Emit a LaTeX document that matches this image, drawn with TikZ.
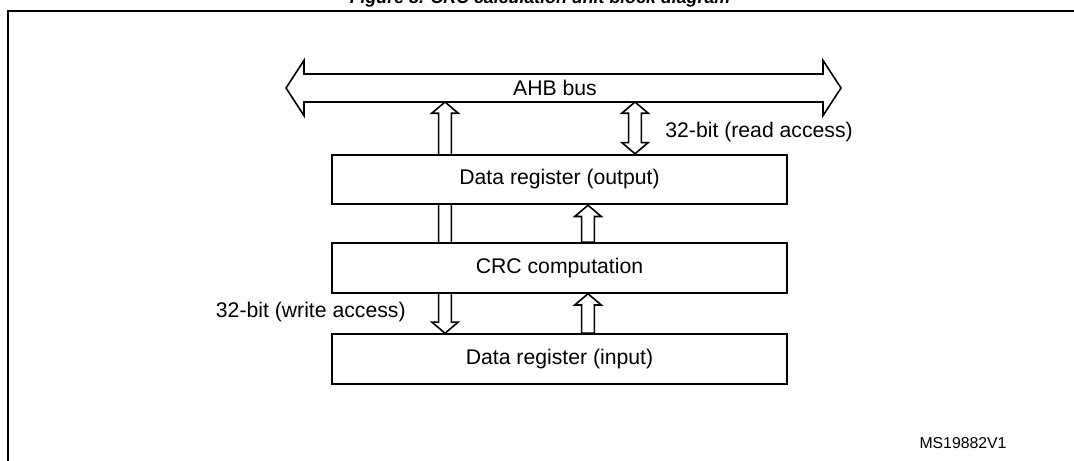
\documentclass[tikz,border=0pt]{standalone}
\usepackage{fontspec}
\setmainfont{Liberation Sans}
\usepackage{tikz}
\usetikzlibrary{calc}
\pgfdeclarelayer{background}
\pgfsetlayers{background,main}

\newcommand{\arrsw}{3.2pt}
\newcommand{\arrhw}{6.6pt}
\newcommand{\arrhl}{5.6pt}
\newcommand{\hollowarrow}[2]{%
    \coordinate (hb) at ($(#2)!\arrhl!(#1)$);
    \draw[hollow] ($(#1)!\arrsw!90:(#2)$) -- ($(hb)!\arrsw!90:(#2)$) -- ($(hb)!\arrhw!90:(#2)$)
        -- (#2) -- ($(hb)!\arrhw!-90:(#2)$) -- ($(hb)!\arrsw!-90:(#2)$) -- ($(#1)!\arrsw!-90:(#2)$) -- cycle;}
\newcommand{\hollowdouble}[2]{%
    \coordinate (ha) at ($(#1)!\arrhl!(#2)$);
    \coordinate (hb) at ($(#2)!\arrhl!(#1)$);
    \draw[hollow] (#1) -- ($(ha)!\arrhw!90:(#2)$) -- ($(ha)!\arrsw!90:(#2)$) -- ($(hb)!\arrsw!90:(#2)$)
        -- ($(hb)!\arrhw!90:(#2)$) -- (#2) -- ($(hb)!\arrhw!-90:(#2)$) -- ($(hb)!\arrsw!-90:(#2)$)
        -- ($(ha)!\arrsw!-90:(#2)$) -- ($(ha)!\arrhw!-90:(#2)$) -- cycle;}

\tikzset{
    hollow/.style={draw, line width=0.8pt, fill=white, line join=miter},
    regbox/.style={draw, line width=1pt, fill=white, minimum width=227.5pt, minimum height=24.75pt, inner sep=0pt},
    lbl/.style={inner sep=0pt},
}

\begin{document}
\begin{tikzpicture}[x=0.5pt, y=-0.5pt, font=\fontsize{10.6}{12.7}\selectfont]
            \useasboundingbox (0,0) rectangle (1074,460);
            \clip (0,0) rectangle (1074,460);
            \node[anchor=base, font=\bfseries\itshape\fontsize{8.9}{10.5}\selectfont] (title) at (540,4) {Figure 8. CRC calculation unit block diagram};
            \draw[line width=1pt] (1080,11) -- (7.5,11) -- (7.5,470);

            \coordinate (busL) at (286,88);
            \coordinate (busR) at (841,88);
            \coordinate (busS) at (563.5,102);
            \coordinate (wx) at (445,0);
            \coordinate (ux) at (588,0);
            \coordinate (rx) at (635,0);

            \node[regbox] (dout) at (559.5,179.5) {Data register (output)};
            \node[regbox] (crc) at (559.5,268) {CRC computation};
            \node[regbox] (din) at (559.5,359) {Data register (input)};

            \coordinate (wlo) at (din.north -| wx);
            \coordinate (whi) at (busS -| wx);
            \coordinate (rlo) at (dout.north -| rx);
            \coordinate (rhi) at (busS -| rx);
            \coordinate (u1a) at (crc.north -| ux);
            \coordinate (u1b) at (dout.south -| ux);
            \coordinate (u2a) at (din.north -| ux);
            \coordinate (u2b) at (crc.south -| ux);

            \begin{pgfonlayer}{background}
                \hollowdouble{wlo}{whi}
            \end{pgfonlayer}
            \begin{scope}
                \renewcommand{\arrsw}{7pt}
                \renewcommand{\arrhw}{13.8pt}
                \renewcommand{\arrhl}{9pt}
                \hollowdouble{busL}{busR}
            \end{scope}
            \node[lbl] (ahb) at (555,88) {AHB bus};
            \hollowdouble{rhi}{rlo}
            \hollowarrow{u1a}{u1b}
            \hollowarrow{u2a}{u2b}

            \node[lbl, anchor=west] (rdlbl) at (665,132) {32-bit (read access)};
            \node[lbl, anchor=east] (wrlbl) at (406,312) {32-bit (write access)};
            \node[lbl, font=\fontsize{7.9}{9.5}\selectfont] (ref) at (963,443) {MS19882V1};
\end{tikzpicture}
\end{document}
